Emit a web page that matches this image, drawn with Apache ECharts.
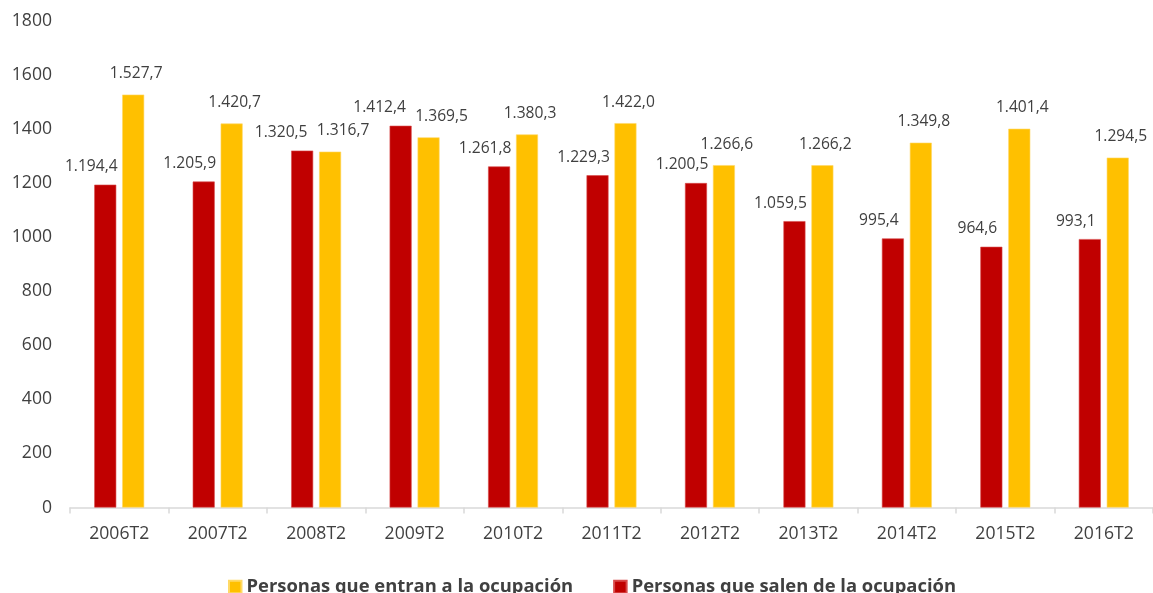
<!DOCTYPE html>
<html>
<head>
<meta charset="utf-8">
<script src="https://cdn.jsdelivr.net/npm/echarts@6/dist/echarts.min.js"></script>
<style>
html,body{margin:0;padding:0;background:#fff;}
#chart{width:1153px;height:593px;}
</style>
</head>
<body>
<div id="chart"></div>
<script>
const categories = ['2006T2','2007T2','2008T2','2009T2','2010T2','2011T2','2012T2','2013T2','2014T2','2015T2','2016T2'];
const salen = [1194.4, 1205.9, 1320.5, 1412.4, 1261.8, 1229.3, 1200.5, 1059.5, 995.4, 964.6, 993.1];
const entran = [1527.7, 1420.7, 1316.7, 1369.5, 1380.3, 1422.0, 1266.6, 1266.2, 1349.8, 1401.4, 1294.5];
const yTicks = [0, 200, 400, 600, 800, 1000, 1200, 1400, 1600, 1800];

const nameEntran = 'Personas que entran a la ocupación';
const nameSalen = 'Personas que salen de la ocupación';
const FONT = '"Open Sans", "Noto Sans", sans-serif';
const TXT = '#404040';

function fmt(v) {
  const parts = v.toFixed(1).split('.');
  const intPart = parts[0].replace(/\B(?=(\d{3})+(?!\d))/g, '.');
  return intPart + ',' + parts[1];
}
// when the two bars of a period are nearly equal, spread their labels apart
function isClose(i) { return Math.abs(salen[i] - entran[i]) < 60; }

const chart = echarts.init(document.getElementById('chart'), null, {renderer: 'canvas'});
chart.setOption({
  animation: false,
  backgroundColor: '#ffffff',
  textStyle: {fontFamily: FONT, color: TXT},
  grid: {left: 70, right: -3, top: 21, bottom: 85.5, containLabel: false},
  legend: {
    data: [nameEntran, nameSalen],
    left: 223,
    top: 573,
    itemWidth: 12.5,
    itemHeight: 12.5,
    itemGap: 40,
    icon: 'rect',
    textStyle: {fontFamily: FONT, fontSize: 18.4, fontWeight: 'bold', color: TXT}
  },
  xAxis: {
    type: 'category',
    data: categories,
    boundaryGap: true,
    axisLine: {lineStyle: {color: '#d9d9d9', width: 1.5}},
    axisTick: {show: true, alignWithLabel: false, length: 6, lineStyle: {color: '#d9d9d9', width: 1.5}},
    axisLabel: {fontFamily: FONT, fontSize: 17.6, color: TXT, margin: 17},
    splitLine: {show: false}
  },
  yAxis: {
    type: 'value',
    min: yTicks[0],
    max: yTicks[yTicks.length - 1],
    interval: yTicks[1] - yTicks[0],
    axisLine: {show: false},
    axisTick: {show: false},
    splitLine: {show: false},
    axisLabel: {fontFamily: FONT, fontSize: 17.6, color: TXT, margin: 18, formatter: v => String(v)}
  },
  series: [
    {
      name: nameSalen,
      type: 'bar',
      data: salen,
      barWidth: 22,
      barGap: '27%',
      itemStyle: {color: '#C00000', borderColor: '#d84a4a', borderWidth: 0.6},
      label: {
        show: true, position: 'top',
        fontFamily: FONT, fontSize: 15.6, color: TXT,
        formatter: p => fmt(p.value)
      },
      labelLayout: p => ({dx: isClose(p.dataIndex) ? -21 : -14, dy: -5})
    },
    {
      name: nameEntran,
      type: 'bar',
      data: entran,
      barWidth: 22,
      itemStyle: {color: '#FFC000', borderColor: '#ffd966', borderWidth: 0.6},
      label: {
        show: true, position: 'top',
        fontFamily: FONT, fontSize: 15.6, color: TXT,
        formatter: p => fmt(p.value)
      },
      labelLayout: p => ({dx: isClose(p.dataIndex) ? 13 : 3, dy: -8})
    }
  ]
});
</script>
</body>
</html>
